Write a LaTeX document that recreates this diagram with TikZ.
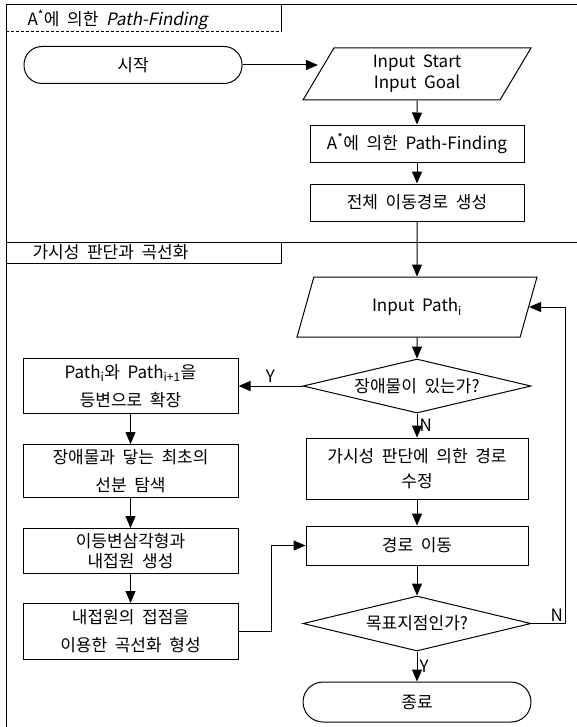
\documentclass[tikz,border=0pt]{standalone}
\usepackage{fontspec}
\setmainfont[WordSpace=2]{Noto Sans CJK KR}
\newfontfamily\slfont[FakeSlant=0.2,WordSpace=2]{Noto Sans CJK KR}
\usetikzlibrary{positioning,shapes.geometric,arrows.meta}

\begin{document}
\begin{tikzpicture}[
    x=1pt, y=-1pt,
    font=\fontsize{17}{28}\selectfont,
    box/.style={rectangle, draw, line width=1pt, minimum width=214pt, minimum height=37pt, align=center, inner sep=2pt},
    term/.style={rectangle, rounded corners=18pt, draw, line width=1pt, minimum width=218pt, minimum height=37pt},
    io/.style={trapezium, trapezium left angle=55, trapezium right angle=125, trapezium stretches body, draw, line width=1pt, minimum width=228pt, minimum height=52pt, align=center},
    decision/.style={diamond, aspect=4, draw, line width=1pt, minimum width=228pt, minimum height=54pt, inner sep=1pt},
    arrow/.style={-{Triangle[length=12pt,width=10pt]}, line width=1pt},
    frame/.style={line width=1pt}
]
\useasboundingbox (0,0) rectangle (577,727);

% Frame and section titles
\draw[frame] (6,727) -- (6,5) -- (577,5);
\draw[frame] (6,242) -- (577,242);
\draw[frame] (281,5) -- (281,32);
\draw[frame, densely dashed] (6,32) -- (281,32);
\draw[frame] (281,242) -- (281,263) -- (6,263);
\node[anchor=west] (title1) at (24,20) {A\textsuperscript{*}에 의한 {\slfont Path-Finding}};
\node[anchor=west] (title2) at (29,252) {가시성 판단과 곡선화};

% Nodes
\node[term] (start) at (133,65) {시작};
\node[io] (input) at (417,74) {Input Start\\[-7pt]Input Goal};
\node[box, below=24pt of input] (astar) {A\textsuperscript{*}에 의한 Path-Finding};
\node[box, below=21pt of astar] (whole) {전체 이동경로 생성};
\node[io, below=55pt of whole, minimum width=240pt, minimum height=60pt] (path) {Input Path\textsubscript{i}};
\node[decision, below=21pt of path] (obst) {장애물이 있는가?};
\node[box, below=24pt of obst, minimum width=222pt, minimum height=61pt] (fix) {가시성 판단에 의한 경로\\[-3pt]수정};
\node[box, below=26pt of fix, minimum width=222pt, minimum height=39pt] (move) {경로 이동};
\node[decision, below=30pt of move, minimum height=55pt] (goal) {목표지점인가?};
\node[term, below=30pt of goal, minimum width=228pt, minimum height=40pt, rounded corners=20pt] (stop) {종료};
\node[box, left=64pt of obst, minimum width=215pt, minimum height=55pt] (widen) {Path\textsubscript{i}와 Path\textsubscript{i+1}을\\등변으로 확장};
\node[box, below=30pt of widen, minimum width=215pt, minimum height=53pt] (search) {장애물과 닿는 최초의\\선분 탐색};
\node[box, below=30pt of search, minimum width=215pt, minimum height=45pt] (circle) {이등변삼각형과\\[-8pt]내접원 생성};
\node[box, below=29pt of circle, minimum width=215pt, minimum height=56pt] (smooth) {내접원의 접점을\\이용한 곡선화 형성};

% Edges
\draw[arrow] (start.east) -- (start.east -| input.west);
\draw[arrow] (input) -- (astar);
\draw[arrow] (astar) -- (whole);
\draw[arrow] (whole) -- (path);
\draw[arrow] (path) -- (obst);
\draw[arrow] (obst) -- node[above] {Y} (widen);
\draw[arrow] (obst) -- node[right, inner sep=2pt] {N} (fix);
\draw[arrow] (fix) -- (move);
\draw[arrow] (move) -- (goal);
\draw[arrow] (goal) -- node[right, inner sep=2pt] {Y} (stop);
\draw[arrow] (goal.east) -- ++(34,0) node[above left, inner sep=2pt] {N} |- (path.east);
\draw[arrow] (widen) -- (search);
\draw[arrow] (search) -- (circle);
\draw[arrow] (circle) -- (smooth);
\draw[arrow] (smooth.east) -- ++(33,0) |- (move.west);

\end{tikzpicture}
\end{document}
